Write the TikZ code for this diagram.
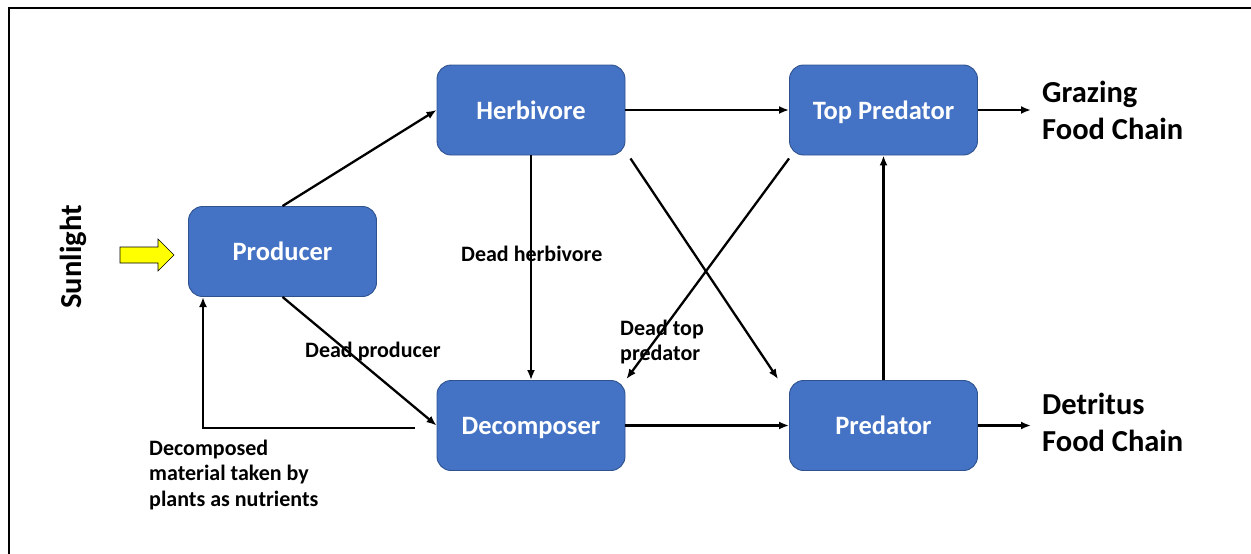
\documentclass[tikz,border=0pt]{standalone}
\usepackage{fontspec}
\setmainfont{Carlito}
\usetikzlibrary{arrows.meta,calc}
\definecolor{boxblue}{HTML}{4472C4}
\definecolor{boxedge}{HTML}{2F528F}
\definecolor{sunyellow}{HTML}{FFFF00}
\tikzset{
  box/.style={draw=boxedge, line width=0.9pt, fill=boxblue, rounded corners=14pt,
    minimum width=188pt, minimum height=90pt, inner sep=0pt,
    text height=18pt, text depth=0pt,
    text=white, font=\fontsize{26.5}{30}\selectfont\bfseries},
  arr/.style={line width=2.3pt, -{Latex[length=10pt,width=8pt]}},
  lbl/.style={font=\fontsize{22}{25.5}\selectfont\bfseries, inner sep=0pt, align=left},
  big/.style={font=\fontsize{30.5}{37}\selectfont\bfseries, inner sep=0pt, align=left}
}
\begin{document}
\begin{tikzpicture}[x=1pt,y=-1pt]
\useasboundingbox (0,0) rectangle (1251,554);
% frame
\draw[line width=2pt] (9,554) -- (9,8) -- (1251,8);
% boxes
\node[box] (producer) at (282.5,251.5) {Producer};
\node[box] (herbivore) at (531,110) {Herbivore};
\node[box] (toppred) at (883.5,110) {Top Predator};
\node[box] (decomposer) at (531,425.5) {Decomposer};
\node[box] (predator) at (883.5,425.5) {Predator};
% sunlight
\node[font=\fontsize{30.5}{34}\selectfont\bfseries, rotate=90, inner sep=0pt] (sun) at (73,257) {Sunlight};
\draw[fill=sunyellow, line width=0.6pt] (120,247) -- (158,247) -- (158,239) -- (174,255) -- (158,271) -- (158,263) -- (120,263) -- cycle;
% connectors
\draw[arr] (producer.north) -- (herbivore.west);
\draw[arr] (producer.south) -- (decomposer.west);
\draw[arr] (herbivore.east) -- (toppred.west);
\draw[arr] (herbivore.south) -- (decomposer.north);
\draw[arr] ($(herbivore.south east)+(5,3)$) -- ($(predator.north west)+(-11,-1)$);
\draw[arr] ($(toppred.south west)+(0,3)$) -- ($(decomposer.north east)+(1,-1)$);
\draw[arr] (decomposer.east) -- (predator.west);
\draw[arr] (predator.north) -- (toppred.south);
\coordinate (gz) at (1031,110);
\coordinate (dt) at (1031,425.5);
\draw[arr] (toppred.east) -- (gz);
\draw[arr] (predator.east) -- (dt);
\coordinate (fbs) at (415,428);
\coordinate (fbe) at (203,297);
\draw[arr] (fbs) -| (fbe);
% labels
\node[lbl, anchor=west] (ldh) at (461,254) {Dead herbivore};
\node[lbl, anchor=west] (ldp) at (305,352) {Dead producer};
\node[lbl, anchor=west] (ldt) at (620,342) {Dead top\\predator};
\node[lbl, anchor=west] (ldm) at (149,475) {Decomposed\\material taken by\\plants as nutrients};
\node[big, anchor=west] (lgr) at (1042,110) {Grazing\\Food Chain};
\node[big, anchor=west] (ldf) at (1042,422.5) {Detritus\\Food Chain};
\end{tikzpicture}
\end{document}
